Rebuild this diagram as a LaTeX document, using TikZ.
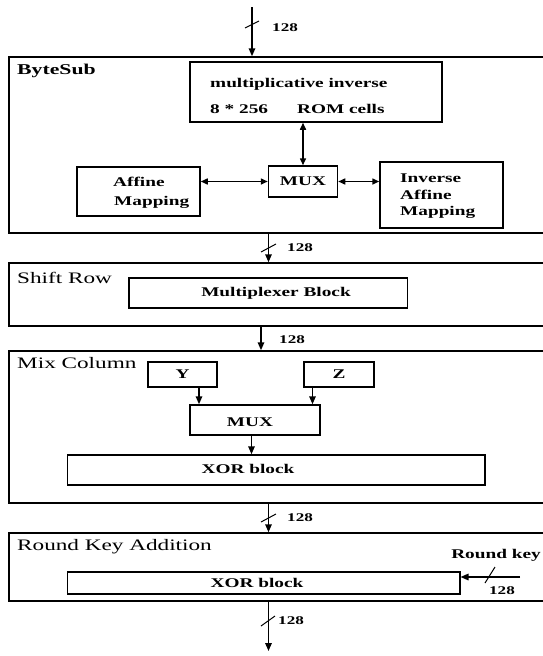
\documentclass[tikz,border=0pt]{standalone}
\usepackage{fontspec}
\setmainfont{Liberation Serif}[FakeStretch=1.45]
\usetikzlibrary{arrows.meta}
\begin{document}
\begin{tikzpicture}[x=1pt,y=-1pt,
  stage/.style={draw, line width=1.5pt, inner sep=0pt, minimum width=539pt},
  box/.style={draw, line width=1.5pt, inner sep=0pt},
  lbl/.style={inner sep=0pt, font=\bfseries\fontsize{13.3}{15}\selectfont},
  lblw/.style={lbl, anchor=west},
  ttl/.style={inner sep=0pt, anchor=west, font=\fontsize{16}{18}\selectfont},
  num/.style={inner sep=0pt, anchor=west, font=\bfseries\fontsize{11.8}{13}\selectfont},
  bus/.style={line width=1.5pt, -{Triangle[length=8pt,width=6.5pt]}},
  dbus/.style={line width=1.5pt, {Triangle[length=7pt,width=6pt]}-{Triangle[length=7pt,width=6pt]}},
  slash/.style={line width=1pt}]
\useasboundingbox (0,0) rectangle (543,656);
\fill[white] (0,0) rectangle (543,656);
\clip (0,0) rectangle (543,656);

% ---------- stage frames ----------
\node[stage, minimum height=176pt] (bs) at (278.5,145) {};
\node[stage, minimum height=63pt]  (sr) at (278.5,294.5) {};
\node[stage, minimum height=152pt] (mc) at (278.5,427) {};
\node[stage, minimum height=68pt]  (rk) at (278.5,567) {};

\node[ttl, font=\bfseries\fontsize{15}{17}\selectfont] (tbs) at (17,71) {ByteSub};
\node[ttl] (tsr) at (17,278) {Shift Row};
\node[ttl] (tmc) at (17,363) {Mix Column};
\node[ttl] (trk) at (17,547) {Round Key Addition};

% ---------- ByteSub ----------
\node[box, minimum width=252pt, minimum height=60pt] (mult) at (316,92) {};
\node[lblw] (m1) at (210,84) {multiplicative inverse};
\node[lblw] (m2) at (210,109) {8 * 256};
\node[lblw] (m3) at (297,109) {ROM cells};

\node[box, minimum width=69pt, minimum height=31pt, lbl] (mux1) at (303,181.5) {MUX};
\node[box, minimum width=123pt, minimum height=49pt] (aff) at (138.5,191.5) {};
\node[lblw] (a1) at (113,182) {Affine};
\node[lblw] (a2) at (114,202) {Mapping};
\node[box, minimum width=123pt, minimum height=66pt] (inv) at (441.5,195) {};
\node[lblw] (i1) at (400,178) {Inverse};
\node[lblw] (i2) at (400,194.5) {Affine};
\node[lblw] (i3) at (400,212) {Mapping};

% ---------- Shift Row ----------
\node[box, minimum width=278.5pt, minimum height=30pt] (mpx) at (268,293) {};
\node[lbl] (mpxt) at (276,293) {Multiplexer Block};

% ---------- Mix Column ----------
\node[box, minimum width=69pt, minimum height=25pt, lbl] (y) at (182.5,374.5) {Y};
\node[box, minimum width=70pt, minimum height=25pt, lbl] (z) at (339,374.5) {Z};
\node[box, minimum width=130pt, minimum height=30pt] (mux2) at (255,420) {};
\node[lbl] (mux2t) at (250,422) {MUX};
\node[box, minimum width=417.5pt, minimum height=30pt] (xor1) at (276,470) {};
\node[lbl] (xor1t) at (248,469) {XOR block};

% ---------- Round Key Addition ----------
\node[box, minimum width=392.5pt, minimum height=22pt] (xor2) at (263.5,583) {};
\node[lbl] (xor2t) at (257,583) {XOR block};
\node[lbl] (rkl) at (496,555) {Round key};

% ---------- buses ----------
\coordinate (in) at (252,7);
\draw[bus] (in) -- (in |- bs.north);
\draw[slash] (245,28) -- (259,21);
\node[num] (n1) at (272,28) {128};

\draw[dbus] (mult.south -| mux1.north) -- (mux1.north);
\draw[dbus] (aff.east |- mux1.west) -- (mux1.west);
\draw[dbus] (mux1.east) -- (inv.west |- mux1.east);

\draw[bus] ([xshift=-10pt]bs.south) -- ([xshift=-10pt]sr.north);
\draw[slash] (261,252) -- (276,244);
\node[num] (n2) at (287,248) {128};

\draw[bus] ([xshift=-17.5pt]sr.south) -- ([xshift=-17.5pt]mc.north);
\node[num] (n3) at (279,340) {128};

\draw[bus] ([xshift=16.5pt]y.south) -- ([xshift=16.5pt]y.south |- mux2.north);
\draw[bus] ([xshift=-26.5pt]z.south) -- ([xshift=-26.5pt]z.south |- mux2.north);
\draw[bus] ([xshift=-3.5pt]mux2.south) -- ([xshift=-3.5pt]mux2.south |- xor1.north);

\draw[bus] ([xshift=-10pt]mc.south) -- ([xshift=-10pt]rk.north);
\draw[slash] (261,522) -- (276,514);
\node[num] (n4) at (287,518) {128};

\coordinate (rkin) at (520,577);
\draw[bus] (rkin) -- (xor2.east |- rkin);
\draw[slash] (485,583) -- (495,567);
\node[num, anchor=center] (n5) at (502,591) {128};

\coordinate (out) at (268.5,651);
\draw[bus] ([xshift=-10pt]rk.south) -- (out);
\draw[slash] (261,626) -- (275,616);
\node[num] (n6) at (278,621) {128};
\end{tikzpicture}
\end{document}
